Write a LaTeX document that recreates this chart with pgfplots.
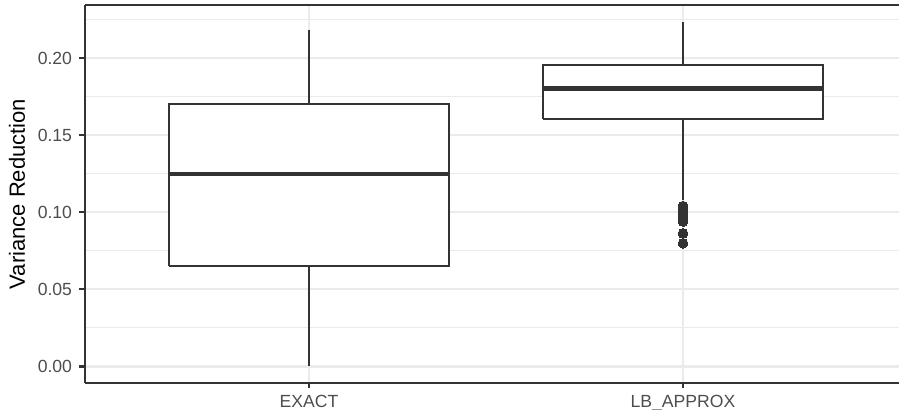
\documentclass[border=0pt]{standalone}
\usepackage{fontspec}
\setmainfont{Liberation Sans}
\usepackage{pgfplots}
\pgfplotsset{compat=1.18}
\definecolor{gray20}{HTML}{333333}
\definecolor{gray30}{HTML}{4D4D4D}
\definecolor{grey92}{HTML}{EBEBEB}
\begin{document}
\begin{tikzpicture}
\begin{axis}[
  at={(0,0)}, anchor=south west,
  scale only axis, width=407.2pt, height=189pt,
  xmin=0.4, xmax=2.5775,
  ymin=-0.0107, ymax=0.2344,
  axis lines*=left,
  axis line style={gray20, line width=1.07pt},
  xtick={1,2}, xticklabels={EXACT, LB\_APPROX},
  ytick={0,0.05,0.1,0.15,0.2},
  minor ytick={0.025,0.075,0.125,0.175,0.225},
  xmajorgrids, ymajorgrids, yminorgrids,
  major grid style={grey92, line width=1.07pt},
  minor grid style={grey92, line width=0.53pt},
  tick align=outside, major tick length=2.75pt, minor tick length=0pt,
  tick style={gray20, line width=1.07pt},
  /pgf/number format/assume math mode=true,
  yticklabel style={/pgf/number format/fixed, /pgf/number format/zerofill,
    /pgf/number format/precision=2, font=\fontsize{8.8}{10}\selectfont, text=gray30},
  xticklabel style={font=\fontsize{8.8}{10}\selectfont, text=gray30},
  ylabel={Variance Reduction},
  ylabel style={font=\fontsize{11}{13}\selectfont, at={(axis description cs:-0.083,0.5)}, anchor=center},
  box/.style={draw=gray20, fill=white, line width=1.07pt, no marks, line join=miter},
  whisk/.style={draw=gray20, line width=1.07pt, no marks},
  med/.style={draw=gray20, line width=2.13pt, no marks},
]
% EXACT: whiskers 0.0003 / 0.2182, box 0.0651--0.1702, median 0.1248
\addplot[whisk] coordinates {(1,0.0003) (1,0.0651)};
\addplot[whisk] coordinates {(1,0.1702) (1,0.2182)};
\addplot[box] coordinates {(0.625,0.0651) (1.375,0.0651) (1.375,0.1702) (0.625,0.1702) (0.625,0.0651)};
\addplot[med] coordinates {(0.625,0.1248) (1.375,0.1248)};
% LB_APPROX: whiskers 0.1078 / 0.2233, box 0.1604--0.1955, median 0.1803
\addplot[whisk] coordinates {(2,0.1078) (2,0.1604)};
\addplot[whisk] coordinates {(2,0.1955) (2,0.2233)};
\addplot[box] coordinates {(1.625,0.1604) (2.375,0.1604) (2.375,0.1955) (1.625,0.1955) (1.625,0.1604)};
\addplot[med] coordinates {(1.625,0.1803) (2.375,0.1803)};
% outliers
\addplot[only marks, mark=*, mark size=2.45pt, mark options={fill=gray20, draw=gray20, line width=0pt}]
  coordinates {(2,0.1040) (2,0.1030) (2,0.1020) (2,0.1010) (2,0.1000)
    (2,0.0990) (2,0.0980) (2,0.0970) (2,0.0960) (2,0.0950) (2,0.0940)
    (2,0.0863) (2,0.0799)};
\draw[gray20, line width=1.07pt] (rel axis cs:0,1) -- (rel axis cs:1,1);
\end{axis}
\pgfresetboundingbox
\useasboundingbox (-42.3pt,-13.5pt) rectangle (407.2pt,191.5pt);
\end{tikzpicture}
\end{document}
